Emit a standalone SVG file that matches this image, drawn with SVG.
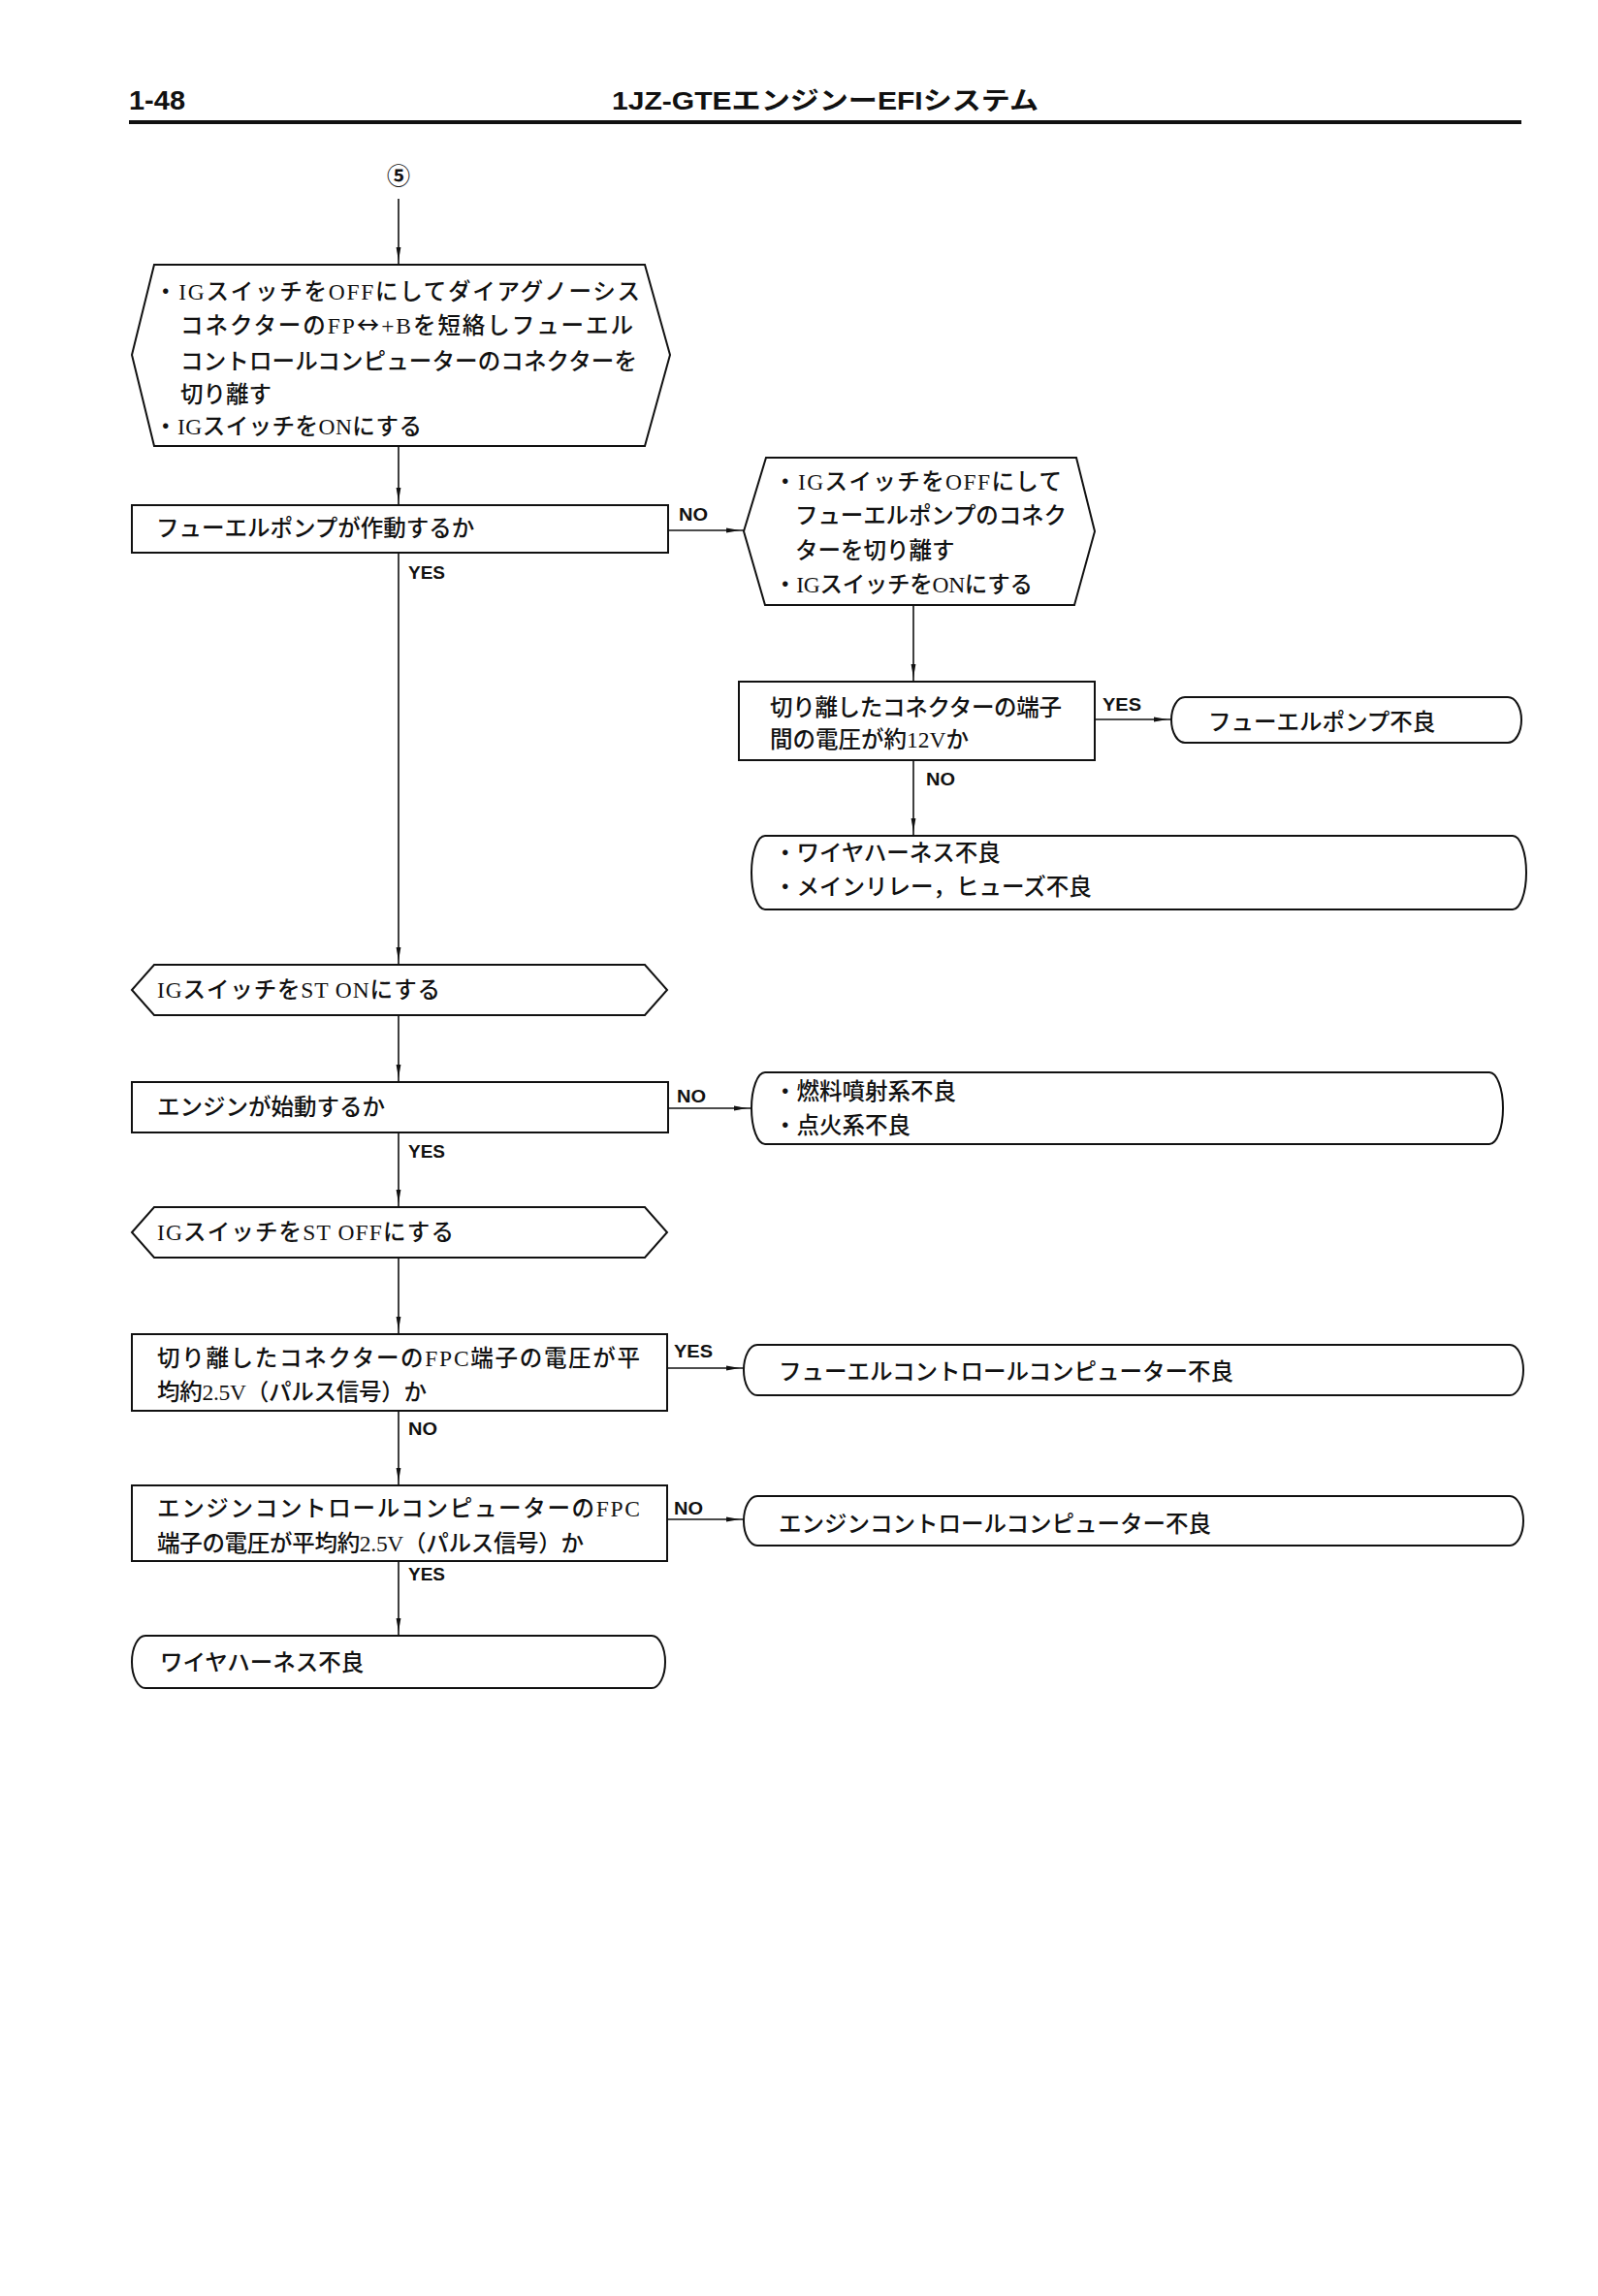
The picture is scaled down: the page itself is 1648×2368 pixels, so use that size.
<svg xmlns="http://www.w3.org/2000/svg" width="1648" height="2368" viewBox="0 0 1648 2368">
<style>
.bg{fill:#ffffff}
.box{fill:none;stroke:#111;stroke-width:2}
.ln{fill:none;stroke:#111;stroke-width:1.6}
.t{font-family:"Liberation Serif","Noto Sans CJK JP",serif;font-size:23.5px;font-weight:500;fill:#111}
.ar{font-family:"Noto Sans CJK JP","DejaVu Sans",sans-serif}
.lb{font-family:"Liberation Sans","Noto Sans CJK JP",sans-serif;font-size:19px;font-weight:bold;fill:#111}
.hd{font-family:"Liberation Sans","Noto Sans CJK JP",sans-serif;font-weight:bold;fill:#111}
</style>
<defs>
<marker id="ah" markerUnits="userSpaceOnUse" markerWidth="20" markerHeight="10" viewBox="0 0 20 10" refX="20" refY="5" orient="auto">
<path d="M2,2.6 L16,5 L2,7.4 Z" fill="#111"/>
</marker>
</defs>
<rect class="bg" x="0" y="0" width="1648" height="2368"/>

<g id="header">
<text class="hd" x="133" y="113" font-size="28" textLength="58" lengthAdjust="spacingAndGlyphs">1-48</text>
<text class="hd" x="631" y="113" font-size="26" textLength="440" lengthAdjust="spacingAndGlyphs">1JZ-GTEエンジンーEFIシステム</text>
<line x1="133" y1="126" x2="1569" y2="126" stroke="#111" stroke-width="4"/>
</g>

<g id="start">
<text x="411" y="190" text-anchor="middle" font-family="Noto Sans CJK JP, sans-serif" font-size="24" font-weight="bold" fill="#111">⑤</text>
</g>

<g id="n1">
<polygon class="box" points="136,366 159,273 665,273 691,366 665,460 159,460"/>
<text class="t" x="159" y="309" textLength="501" lengthAdjust="spacing">・IGスイッチをOFFにしてダイアグノーシス</text>
<text class="t" x="186" y="344" textLength="467" lengthAdjust="spacing">コネクターのFP<tspan class="ar">↔</tspan>+Bを短絡しフューエル</text>
<text class="t" x="186" y="381" textLength="471" lengthAdjust="spacing">コントロールコンピューターのコネクターを</text>
<text class="t" x="186" y="415">切り離す</text>
<text class="t" x="159" y="448" textLength="276" lengthAdjust="spacing">・IGスイッチをONにする</text>
</g>

<g id="d2">
<rect class="box" x="136" y="521" width="553" height="49"/>
<text class="t" x="161" y="553">フューエルポンプが作動するか</text>
</g>

<g id="n2">
<polygon class="box" points="767,548 790,472 1110,472 1129,548 1108,624 789,624"/>
<text class="t" x="798" y="505" textLength="297" lengthAdjust="spacing">・IGスイッチをOFFにして</text>
<text class="t" x="820" y="540" textLength="280" lengthAdjust="spacing">フューエルポンプのコネク</text>
<text class="t" x="820" y="576">ターを切り離す</text>
<text class="t" x="798" y="611" textLength="267" lengthAdjust="spacing">・IGスイッチをONにする</text>
</g>

<g id="d3">
<rect class="box" x="762" y="703" width="367" height="81"/>
<text class="t" x="794" y="738" textLength="301" lengthAdjust="spacing">切り離したコネクターの端子</text>
<text class="t" x="794" y="771">間の電圧が約12Vか</text>
</g>

<g id="e1">
<path class="box" d="M1222,719 H1555 A14,23.5 0 0 1 1555,766 H1222 A14,23.5 0 0 1 1222,719 Z"/>
<text class="t" x="1246" y="753">フューエルポンプ不良</text>
</g>

<g id="e2">
<path class="box" d="M789,862 H1560 A14,38 0 0 1 1560,938 H789 A14,38 0 0 1 789,862 Z"/>
<text class="t" x="798" y="888">・ワイヤハーネス不良</text>
<text class="t" x="798" y="923">・メインリレー，ヒューズ不良</text>
</g>

<g id="n3">
<polygon class="box" points="136,1021 159,995 665,995 688,1021 665,1047 159,1047"/>
<text class="t" x="162" y="1029" textLength="292" lengthAdjust="spacing">IGスイッチをST ONにする</text>
</g>

<g id="d4">
<rect class="box" x="136" y="1116" width="553" height="52"/>
<text class="t" x="162" y="1150">エンジンが始動するか</text>
</g>

<g id="e3">
<path class="box" d="M789,1106 H1536 A14,37 0 0 1 1536,1180 H789 A14,37 0 0 1 789,1106 Z"/>
<text class="t" x="798" y="1134">・燃料噴射系不良</text>
<text class="t" x="798" y="1169">・点火系不良</text>
</g>

<g id="n4">
<polygon class="box" points="136,1271 159,1245 665,1245 688,1271 665,1297 159,1297"/>
<text class="t" x="162" y="1279" textLength="306" lengthAdjust="spacing">IGスイッチをST OFFにする</text>
</g>

<g id="d5">
<rect class="box" x="136" y="1376" width="552" height="79"/>
<text class="t" x="162" y="1409" textLength="498" lengthAdjust="spacing">切り離したコネクターのFPC端子の電圧が平</text>
<text class="t" x="162" y="1444" textLength="278" lengthAdjust="spacing">均約2.5V（パルス信号）か</text>
</g>

<g id="e4">
<path class="box" d="M781,1387 H1557 A14,26 0 0 1 1557,1439 H781 A14,26 0 0 1 781,1387 Z"/>
<text class="t" x="803" y="1423">フューエルコントロールコンピューター不良</text>
</g>

<g id="d6">
<rect class="box" x="136" y="1532" width="552" height="78"/>
<text class="t" x="162" y="1564" textLength="498" lengthAdjust="spacing">エンジンコントロールコンピューターのFPC</text>
<text class="t" x="162" y="1600" textLength="440" lengthAdjust="spacing">端子の電圧が平均約2.5V（パルス信号）か</text>
</g>

<g id="e5">
<path class="box" d="M781,1543 H1557 A14,25.5 0 0 1 1557,1594 H781 A14,25.5 0 0 1 781,1543 Z"/>
<text class="t" x="803" y="1580">エンジンコントロールコンピューター不良</text>
</g>

<g id="e6">
<path class="box" d="M150,1687 H672 A14,27 0 0 1 672,1741 H150 A14,27 0 0 1 150,1687 Z"/>
<text class="t" x="165" y="1723">ワイヤハーネス不良</text>
</g>

<g id="connectors">
<line class="ln" x1="411" y1="205" x2="411" y2="273" marker-end="url(#ah)"/>
<line class="ln" x1="411" y1="460" x2="411" y2="521" marker-end="url(#ah)"/>
<line class="ln" x1="689" y1="547" x2="767" y2="547" marker-end="url(#ah)"/>
<line class="ln" x1="942" y1="624" x2="942" y2="703" marker-end="url(#ah)"/>
<line class="ln" x1="1129" y1="742" x2="1208" y2="742" marker-end="url(#ah)"/>
<line class="ln" x1="942" y1="784" x2="942" y2="862" marker-end="url(#ah)"/>
<line class="ln" x1="411" y1="570" x2="411" y2="995" marker-end="url(#ah)"/>
<line class="ln" x1="411" y1="1047" x2="411" y2="1116" marker-end="url(#ah)"/>
<line class="ln" x1="689" y1="1143" x2="775" y2="1143" marker-end="url(#ah)"/>
<line class="ln" x1="411" y1="1168" x2="411" y2="1245" marker-end="url(#ah)"/>
<line class="ln" x1="411" y1="1297" x2="411" y2="1376" marker-end="url(#ah)"/>
<line class="ln" x1="688" y1="1411" x2="767" y2="1411" marker-end="url(#ah)"/>
<line class="ln" x1="411" y1="1455" x2="411" y2="1532" marker-end="url(#ah)"/>
<line class="ln" x1="688" y1="1567" x2="767" y2="1567" marker-end="url(#ah)"/>
<line class="ln" x1="411" y1="1610" x2="411" y2="1687" marker-end="url(#ah)"/>
<text class="lb" x="700" y="537" textLength="30" lengthAdjust="spacingAndGlyphs">NO</text>
<text class="lb" x="421" y="597" textLength="38" lengthAdjust="spacingAndGlyphs">YES</text>
<text class="lb" x="1137" y="733" textLength="40" lengthAdjust="spacingAndGlyphs">YES</text>
<text class="lb" x="955" y="810" textLength="30" lengthAdjust="spacingAndGlyphs">NO</text>
<text class="lb" x="698" y="1137" textLength="30" lengthAdjust="spacingAndGlyphs">NO</text>
<text class="lb" x="421" y="1194" textLength="38" lengthAdjust="spacingAndGlyphs">YES</text>
<text class="lb" x="695" y="1400" textLength="40" lengthAdjust="spacingAndGlyphs">YES</text>
<text class="lb" x="421" y="1480" textLength="30" lengthAdjust="spacingAndGlyphs">NO</text>
<text class="lb" x="695" y="1562" textLength="30" lengthAdjust="spacingAndGlyphs">NO</text>
<text class="lb" x="421" y="1630" textLength="38" lengthAdjust="spacingAndGlyphs">YES</text>
</g>
</svg>
